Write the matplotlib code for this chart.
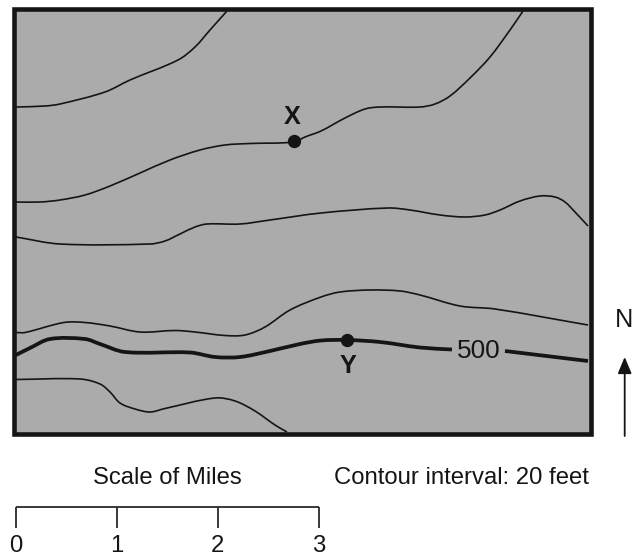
import numpy as np
import matplotlib
matplotlib.use('Agg')
import matplotlib.pyplot as plt
from matplotlib.path import Path
from matplotlib.patches import PathPatch, Rectangle

plt.rcParams['font.family'] = ['Liberation Sans', 'DejaVu Sans']

# contour lines in pixel coordinates
line_a_x = [16, 45, 60, 105, 130, 178, 195, 210, 227]
line_a_y = [107, 106, 104, 92, 80, 60, 47, 30, 11]
line_b_x = [16, 40, 60, 85, 110, 140, 170, 200, 225, 250, 294, 305, 321, 345, 365, 380, 420, 435, 450, 470, 490, 510, 523]
line_b_y = [202, 202, 200, 195, 186, 173, 160, 150, 145, 143.5, 142, 137, 131, 118, 109, 107, 107, 104, 96, 78, 57, 30, 11]
line_c_x = [16, 60, 150, 165, 180, 195, 207, 240, 270, 321, 388, 410, 440, 465, 485, 500, 520, 540, 555, 565, 575, 588]
line_c_y = [237, 244, 244, 241, 234, 227, 224, 224, 220, 213, 208, 210, 215, 217, 215, 210, 201, 196, 197, 202, 212, 226]
line_d_x = [16, 25, 64, 85, 110, 140, 175, 195, 225, 245, 265, 290, 321, 340, 370, 400, 420, 460, 495, 588]
line_d_y = [332.5, 332.5, 322.5, 322.5, 326, 332, 330.5, 332, 335.5, 335, 327, 310, 297, 292, 290, 291, 295, 306, 309, 325]
line_e_x = [16, 80, 100, 110, 120, 135, 150, 165, 215, 235, 255, 275, 287]
line_e_y = [379.5, 379, 384, 392, 403, 409, 412, 408.5, 398, 401, 411, 425, 432]
index_left_x = [16, 30, 50, 85, 100, 125, 190, 215, 240, 270, 300, 321, 347, 380, 420, 452]
index_left_y = [355, 348, 339, 339, 344, 352, 352.5, 357, 357, 351, 344, 340.5, 340, 342, 347.5, 349.5]
index_right_x = [505, 588]
index_right_y = [351, 361]

point_names = ['X', 'Y']
point_x = [294, 347]
point_y = [141, 340]
scale_labels = ['0', '1', '2', '3']
scale_x = [15.5, 116.5, 217.5, 319]


def smooth_path(xs, ys):
    # bezier through the read points, handles a third of each segment long
    p = np.column_stack([xs, ys]).astype(float)
    tang = np.zeros_like(p)
    for i in range(len(p)):
        d = p[min(i + 1, len(p) - 1)] - p[max(i - 1, 0)]
        tang[i] = d / np.hypot(*d)
    verts = [p[0]]
    codes = [Path.MOVETO]
    for i in range(len(p) - 1):
        h = np.hypot(*(p[i + 1] - p[i])) / 3
        verts += [p[i] + tang[i] * h, p[i + 1] - tang[i + 1] * h, p[i + 1]]
        codes += [Path.CURVE4] * 3
    return Path(verts, codes)


fig = plt.figure(figsize=(6.42, 5.55), dpi=100)
ax = fig.add_axes([0, 0, 1, 1])
ax.set_xlim(0, 642)
ax.set_ylim(555, 0)
ax.axis('off')

ink = '#151515'
ax.add_patch(Rectangle((14, 9), 576.5, 424.5, facecolor='#ababab', edgecolor='none', zorder=1))

for xs, ys in [(line_a_x, line_a_y), (line_b_x, line_b_y), (line_c_x, line_c_y),
               (line_d_x, line_d_y), (line_e_x, line_e_y)]:
    ax.add_patch(PathPatch(smooth_path(xs, ys), facecolor='none', edgecolor=ink, lw=1.2, zorder=2))
for xs, ys in [(index_left_x, index_left_y), (index_right_x, index_right_y)]:
    ax.add_patch(PathPatch(smooth_path(xs, ys), facecolor='none', edgecolor=ink, lw=2.7,
                           capstyle='butt', zorder=2))

ax.add_patch(Rectangle((14, 9), 576.5, 424.5, facecolor='none', edgecolor=ink, lw=3.3,
                       joinstyle='miter', zorder=3))

ax.plot(point_x, point_y, 'o', color=ink, ms=9.6, mew=0, zorder=4)
ax.text(292, 117, point_names[0], fontsize=18.2, fontweight='bold', color=ink, ha='center', va='center')
ax.text(348, 366, point_names[1], fontsize=18.2, fontweight='bold', color=ink, ha='center', va='center')
ax.text(479, 350.5, '500', fontsize=18.8, color=ink, ha='center', va='center', zorder=4)

# north arrow
ax.text(624, 320, 'N', fontsize=18.2, color=ink, ha='center', va='center')
ax.annotate('', xy=(624.7, 357), xytext=(624.7, 436),
            arrowprops=dict(arrowstyle='-|>,head_length=1.0,head_width=0.42', color=ink, lw=1.3,
                            shrinkA=0, shrinkB=0))

# scale bar
ax.plot([scale_x[0], scale_x[-1]], [507, 507], color='#2a2a2a', lw=1.3, solid_capstyle='butt')
for x, lab in zip(scale_x, scale_labels):
    ax.plot([x, x], [507, 528], color='#2a2a2a', lw=1.3, solid_capstyle='butt')
    ax.text(x, 545.5, lab, fontsize=17.2, color=ink, ha='center', va='center')

ax.text(167, 477.5, 'Scale of Miles', fontsize=17.2, color=ink, ha='center', va='center')
ax.text(461.5, 478.5, 'Contour interval: 20 feet', fontsize=17.2, color=ink, ha='center', va='center')

fig.savefig('out.png', dpi=100)
